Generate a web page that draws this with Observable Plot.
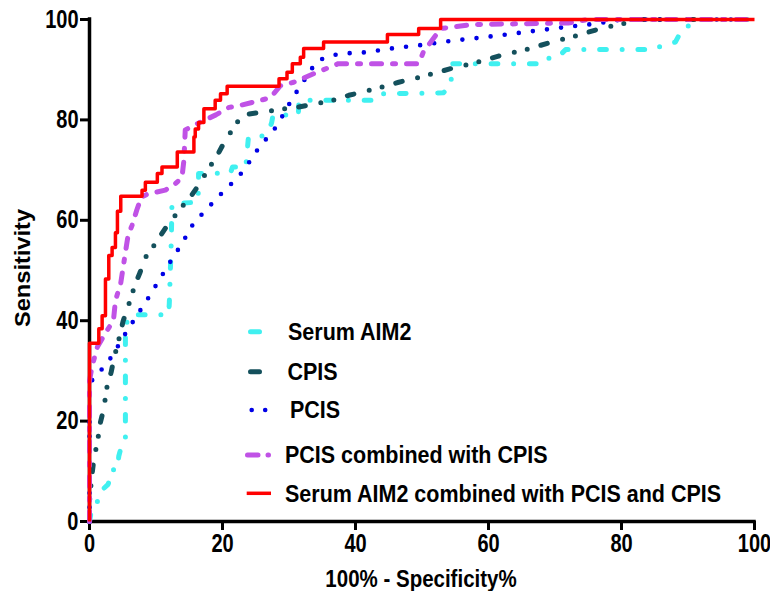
<!DOCTYPE html>
<html><head><meta charset="utf-8">
<script src="https://cdn.jsdelivr.net/npm/d3@7"></script>
<script src="https://cdn.jsdelivr.net/npm/@observablehq/plot@0.6"></script>
<style>
html,body{margin:0;padding:0;background:#fff;}
#wrap{position:relative;width:770px;height:591px;}
#legend{position:absolute;left:0;top:0;pointer-events:none;}
</style></head><body><div id="wrap"></div>
<script>
// ---- data ----
const xTicks = [0, 20, 40, 60, 80, 100];
const yTicks = [0, 20, 40, 60, 80, 100];
const xLabel = "100% - Specificity%";
const yLabel = "Sensitivity";
const seriesNames = ["Serum AIM2", "CPIS", "PCIS", "PCIS combined with CPIS", "Serum AIM2 combined with PCIS and CPIS"];

// [100% - specificity, sensitivity]
const serumAIM2 = [[0,0],[0.4,3],[1.6,4.5],[1.9,6.3],[2.8,7.4],[3.3,9.6],[3.3,10.3],[4.2,10.3],[4.4,13],[4.9,15.5],[5.4,16.5],[5.4,38.7],[5.7,40],[6.3,41.2],[11.9,41.2],[12.0,43.4],[12.3,56],[12.4,63.3],[16.2,63.6],[16.4,66],[16.4,69.3],[21.2,69.4],[21.5,70.6],[23.5,70.6],[23.9,76.6],[26,76.8],[26.9,77.5],[27.4,79.5],[27.6,81],[31.4,81],[31.5,83.9],[43.2,83.9],[44,85.2],[53.2,85.4],[54.3,86.7],[54.6,91.2],[68.6,91.2],[69.2,92.5],[70.6,92.7],[71.6,94],[85.1,94],[86,94.8],[88.1,95.5],[88.9,97.5],[89.4,98.5],[91.1,99],[92,100],[100,100]];
const cpis = [[0,0],[0,4],[0.2,7],[0.4,9.6],[0.65,12.3],[1.05,15],[1.4,17.5],[1.65,19.8],[2.15,22.5],[2.65,27],[3.25,29.7],[3.7,32.6],[4.55,37],[5.05,39.9],[5.75,42.6],[6.9,47.4],[7.6,49.6],[8.3,52.4],[9.4,54.4],[10.2,56],[11.4,58.4],[13.9,62.7],[15,64.3],[16.2,66.6],[18.4,71.3],[19.2,72.9],[20.2,75.4],[21.4,77.9],[22.4,79.9],[23.7,81.1],[25.7,81.5],[29.7,82.3],[31.2,82.5],[33.2,83],[37.2,84.1],[39,84.9],[43,86.2],[46.5,87.5],[50.5,88.8],[54.3,90.2],[58,91.4],[61.5,92.7],[65.6,94],[69,95.3],[73,96.7],[76.6,98.1],[80.6,99.3],[82,100],[100,100]];
const pcis = [[0,0],[0,27],[0.3,28],[1.65,30],[2.9,32],[4.05,34.4],[5.15,36.9],[6.25,39.2],[7.4,41.6],[8.6,44],[10.8,48.8],[11.9,51.2],[13,53.5],[14.2,56],[15.1,58.4],[16.4,60.5],[17.9,62.6],[19.3,64.6],[20.8,66.6],[22.3,68.5],[23.6,70.7],[24.7,73],[26,75.4],[27.3,77.2],[28.5,79.5],[29.5,82],[30.6,84.4],[31.7,86.8],[33,89.2],[34,91.5],[35.7,92.6],[37.7,93.2],[42,93.5],[44.2,94],[46.3,94.4],[50.5,95],[54.7,95.8],[58.9,96.4],[63.2,97.1],[67.3,97.8],[71.6,98.5],[75.7,99.1],[77.8,99.5],[80,100],[100,100]];
const pcisCpis = [[0,0],[0,28],[0.4,31],[1.2,34.8],[2.6,38],[3.6,40],[3.9,44],[4.7,47.5],[5.4,53.6],[5.8,57],[6.4,59],[7.1,62],[7.8,64.6],[8.7,65.2],[11.4,66],[12.9,67.3],[13.9,68.5],[14.2,72],[14.4,78],[16.3,79.3],[19,81],[21,82.5],[23,83],[27.2,84.4],[28.7,86.8],[30.7,87.5],[33.7,89.2],[37.4,91.2],[49.5,91.2],[50.2,93.5],[51.6,96],[52.8,98.2],[57.7,99],[72,99.3],[75,100],[100,100]];
// ROC points of the combined model (drawn as a step function)
const combinedAll = [[0,0],[0,35.5],[1.4,38.4],[1.9,41],[2.4,48.3],[2.9,53],[3.4,54.6],[3.9,57.5],[4.2,61.8],[4.7,64.8],[7.9,66],[8.4,67.6],[10.2,69.3],[10.9,70.6],[13.2,73.6],[15.7,76.6],[15.9,78.2],[16.4,79.5],[17.2,82.2],[18.9,83.9],[19.7,85.2],[20.7,86.7],[28.5,88.2],[29.7,89.5],[30.5,91.2],[31.7,92.5],[32.2,94.2],[35.2,95.5],[44.8,97],[49.5,98.2],[52.8,100],[100,100]];

// ---- styles ----
const FONT = "'Liberation Sans', Arial, Helvetica, sans-serif";
const styles = [
  {data: serumAIM2, stroke: "#40f0f0", width: 5, dash: "6.7,15.8,0,15.8", curve: "linear"},
  {data: cpis, stroke: "#14505c", width: 5, dash: "6.7,15.8,0,13.3,0,14.2", curve: "linear"},
  {data: pcis, stroke: "#0000e6", width: 4.6, dash: "0,14.2", curve: "linear"},
  {data: pcisCpis, stroke: "#c052e6", width: 5, dash: "10,11,3,11", curve: "linear"},
  {data: combinedAll, stroke: "#ff0000", width: 3.5, dash: null, curve: "step-after"}
];

const lineMarks = styles.map(s => Plot.line(s.data, {
  x: d => d[0], y: d => d[1], stroke: s.stroke, strokeWidth: s.width,
  strokeDasharray: s.dash, strokeLinecap: s.dash ? "round" : "butt",
  strokeLinejoin: "round", curve: s.curve
}));

const chart = Plot.plot({
  width: 770, height: 591,
  marginLeft: 89, marginRight: 16, marginTop: 19, marginBottom: 70,
  style: {background: "white", fontFamily: FONT, fontWeight: "bold", fontSize: "20px", color: "black", overflow: "visible"},
  x: {domain: [0, 100]},
  y: {domain: [0, 100]},
  marks: [
    Plot.axisX({ticks: xTicks, tickSize: 9, tickPadding: 4, strokeWidth: 3, label: null, fontSize: 20, tickFormat: d => String(d)}),
    Plot.axisY({ticks: yTicks, tickSize: 9, tickPadding: 2, strokeWidth: 3, label: null, fontSize: 20, tickFormat: d => String(d)}),
    Plot.ruleY([0], {strokeWidth: 3.5, strokeLinecap: "square"}),
    Plot.ruleX([0], {strokeWidth: 3.5, strokeLinecap: "square"}),
    ...lineMarks
  ]
});

// reference tick labels are tall and narrow: stretch them vertically
const SY = 1.25;
d3.select(chart).selectAll('g[aria-label="x-axis tick label"] text, g[aria-label="y-axis tick label"] text')
  .attr("transform", function() { return (this.getAttribute("transform") || "") + ` scale(1,${SY})`; });

const wrap = document.getElementById("wrap");
wrap.appendChild(chart);

// ---- overlay: axis titles and legend (inside the plot area) ----
const legendRows = [
  {y: 331.7, tx: 288, x0: 250.5, x1: 272, dash: "9,12.5,0,30"},
  {y: 371.7, tx: 287.5, x0: 250.5, x1: 272, dash: "9,12.5,0,30"},
  {y: 410, tx: 290, x0: 251.7, x1: 265.5, dash: "0,13.5"},
  {y: 455, tx: 285, x0: 247.5, x1: 268.5, dash: "10.5,10,0.5,30"},
  {y: 493.3, tx: 285, x0: 246.7, x1: 271, dash: null}
];
const leg = d3.create("svg").attr("id", "legend").attr("width", 770).attr("height", 591);
legendRows.forEach((r, i) => {
  const s = styles[i];
  leg.append("line").attr("x1", r.x0).attr("x2", r.x1).attr("y1", r.y).attr("y2", r.y)
    .attr("stroke", s.stroke).attr("stroke-width", s.width)
    .attr("stroke-linecap", r.dash ? "round" : "butt")
    .attr("stroke-dasharray", r.dash);
  leg.append("text").attr("transform", `translate(${r.tx},${r.y}) scale(1,1.08)`).attr("dy", "0.36em")
    .attr("font-family", FONT).attr("font-weight", "bold").attr("font-size", 21.5)
    .attr("fill", "black").text(seriesNames[i]);
});
leg.append("text").attr("transform", "translate(421,578) scale(1,1.2)").attr("dy", "0.36em")
  .attr("text-anchor", "middle").attr("font-family", FONT).attr("font-weight", "bold")
  .attr("font-size", 20.5).attr("fill", "black").text(xLabel);
leg.append("text").attr("transform", "translate(22,268) rotate(-90) scale(1.05,1)").attr("dy", "0.36em")
  .attr("text-anchor", "middle").attr("font-family", FONT).attr("font-weight", "bold")
  .attr("font-size", 22.5).attr("fill", "black").text(yLabel);
wrap.appendChild(leg.node());
</script></body></html>
